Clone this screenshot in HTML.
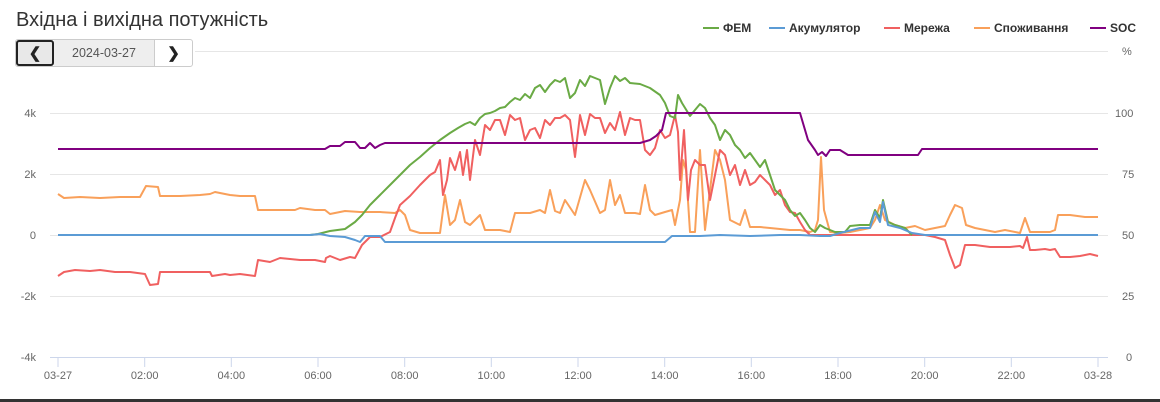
<!DOCTYPE html>
<html><head><meta charset="utf-8"><style>
body{margin:0;width:1160px;height:402px;overflow:hidden;background:#fff;font-family:"Liberation Sans",sans-serif;position:relative}
.t{position:absolute;left:16px;top:9px;font-size:20px;color:#333}
.bg{position:absolute;left:15px;top:39px;height:28px;width:178px;border:1px solid #ccc;border-radius:3px;display:flex;box-sizing:border-box}
.bg div{display:flex;align-items:center;justify-content:center;font-size:12.5px;color:#555}
.b1{width:38px;border:2px solid #222;border-radius:3px;background:#e8e8e8;box-sizing:border-box;font-weight:bold;color:#222!important;font-size:15px!important}
.b2{width:100px;background:#eee;border-right:1px solid #ccc}
.b3{flex:1;font-weight:bold;color:#222!important;font-size:15px!important}
.bot{position:absolute;left:0;top:399px;width:1160px;height:3px;background:#333}
</style></head><body>
<div class="t">Вхідна і вихідна потужність</div>
<div class="bg"><div class="b1">&#10094;</div><div class="b2">2024-03-27</div><div class="b3">&#10095;</div></div>
<svg width="1160" height="402" style="position:absolute;left:0;top:0" font-family="Liberation Sans,sans-serif">
<g stroke="#e6e6e6" stroke-width="1">
<line x1="195" y1="51.5" x2="1108" y2="51.5"/><line x1="50" y1="113.5" x2="1108" y2="113.5"/><line x1="50" y1="174.5" x2="1108" y2="174.5"/><line x1="50" y1="235.5" x2="1108" y2="235.5"/><line x1="50" y1="296.5" x2="1108" y2="296.5"/>
</g>
<line x1="50" y1="357.5" x2="1108" y2="357.5" stroke="#ccd6eb"/>
<g stroke="#ccd6eb"><line x1="58" y1="357" x2="58" y2="367"/><line x1="144.7" y1="357" x2="144.7" y2="367"/><line x1="231.3" y1="357" x2="231.3" y2="367"/><line x1="318" y1="357" x2="318" y2="367"/><line x1="404.7" y1="357" x2="404.7" y2="367"/><line x1="491.3" y1="357" x2="491.3" y2="367"/><line x1="578" y1="357" x2="578" y2="367"/><line x1="664.7" y1="357" x2="664.7" y2="367"/><line x1="751.3" y1="357" x2="751.3" y2="367"/><line x1="838" y1="357" x2="838" y2="367"/><line x1="924.7" y1="357" x2="924.7" y2="367"/><line x1="1011.3" y1="357" x2="1011.3" y2="367"/><line x1="1098" y1="357" x2="1098" y2="367"/></g>
<g fill="#666" font-size="11" text-anchor="middle">
<text x="58" y="379">03-27</text><text x="144.7" y="379">02:00</text><text x="231.3" y="379">04:00</text><text x="318" y="379">06:00</text><text x="404.7" y="379">08:00</text><text x="491.3" y="379">10:00</text><text x="578" y="379">12:00</text><text x="664.7" y="379">14:00</text><text x="751.3" y="379">16:00</text><text x="838" y="379">18:00</text><text x="924.7" y="379">20:00</text><text x="1011.3" y="379">22:00</text><text x="1098" y="379">03-28</text>
</g>
<g fill="#666" font-size="11" text-anchor="end">
<text x="36" y="117">4k</text><text x="36" y="178">2k</text><text x="36" y="239">0</text><text x="36" y="300">-2k</text><text x="36" y="361">-4k</text></g>
<g fill="#666" font-size="11" text-anchor="start">
<text x="1122" y="55">%</text><text x="1115" y="117">100</text><text x="1122" y="178">75</text><text x="1122" y="239">50</text><text x="1122" y="300">25</text><text x="1126" y="361">0</text></g>
<g font-size="12" font-weight="bold" fill="#333">
<line x1="703" y1="28" x2="719" y2="28" stroke="#6aaa45" stroke-width="2"/><text x="723" y="32">ФЕМ</text>
<line x1="769" y1="28" x2="785" y2="28" stroke="#5b9bd5" stroke-width="2"/><text x="789" y="32">Акумулятор</text>
<line x1="884" y1="28" x2="900" y2="28" stroke="#f06060" stroke-width="2"/><text x="904" y="32">Мережа</text>
<line x1="974" y1="28" x2="990" y2="28" stroke="#f9a05a" stroke-width="2"/><text x="994" y="32">Споживання</text>
<line x1="1090" y1="28" x2="1106" y2="28" stroke="#800080" stroke-width="2"/><text x="1110" y="32">SOC</text>
</g>
<g fill="none" stroke-width="2" stroke-linejoin="round">
<polyline stroke="#f9a05a" points="58,194 64,198 80,197 100,198 120,197 140,197 146,186 158,187 160,196 180,196 200,195 210,194 215,192 230,195 240,196 255,196 258,210 275,210 295,210 300,208 315,210 325,210 330,214 345,211 360,212 380,212 395,213 400,210 405,215 410,230 420,233 435,233 440,233 445,195 450,225 455,220 460,200 465,222 470,225 480,215 485,230 500,230 510,232 515,213 530,213 540,210 545,213 550,190 555,211 560,213 565,200 575,215 585,180 590,190 600,213 605,210 610,180 615,205 620,195 625,213 635,213 640,214 645,185 650,210 655,215 665,212 672,210 675,225 680,200 683,160 686,170 690,232 695,232 700,150 705,230 710,190 715,150 720,160 725,180 730,220 740,225 745,210 750,227 760,227 770,228 780,229 790,230 800,230 810,232 815,230 818,220 821,157 824,210 830,232 840,233 850,232 860,230 870,228 875,220 880,205 885,220 895,225 905,228 915,226 925,230 935,228 945,226 950,215 955,205 962,208 966,225 975,228 985,230 995,232 1005,230 1020,233 1025,218 1030,232 1050,232 1055,230 1058,215 1070,215 1085,217 1098,217"/>
<polyline stroke="#f06060" points="58,276 64,272 75,270 90,271 100,270 115,272 130,272 145,274 150,285 158,284 160,272 175,272 190,272 210,272 212,276 225,274 230,275 240,274 255,276 258,260 270,262 280,258 300,260 315,260 325,262 326,258 330,256 340,260 350,257 355,258 362,245 370,237 380,237 390,232 395,218 400,205 410,196 420,185 430,175 435,172 440,160 443,195 447,180 450,158 455,170 460,152 463,175 467,150 470,180 475,140 480,155 485,125 490,130 495,120 500,120 505,135 510,115 515,120 520,118 525,140 530,130 535,128 540,138 545,120 550,125 555,118 560,118 565,115 570,120 575,157 580,115 585,135 590,114 595,118 600,118 605,133 610,123 615,130 620,112 625,135 630,118 635,120 640,120 645,150 650,155 655,148 660,130 665,138 670,135 675,115 678,132 680,180 684,130 688,200 691,170 695,160 700,165 705,165 710,200 715,175 720,150 725,155 730,175 735,165 740,185 745,170 750,185 755,182 760,175 765,180 770,185 775,195 780,190 785,205 790,212 795,213 800,222 805,230 810,235 840,235 880,235 925,235 935,237 945,240 950,255 955,268 960,265 965,245 975,245 990,247 1010,247 1020,246 1023,248 1027,237 1030,250 1035,250 1045,249 1050,250 1055,249 1060,257 1070,257 1080,256 1090,254 1098,256"/>
<polyline stroke="#6aaa45" points="58,235 310,235 318,234 330,231 345,229 355,222 362,215 370,205 380,195 390,185 400,175 410,165 420,157 430,148 440,140 450,133 458,128 465,124 470,122 475,125 480,118 485,114 490,113 495,111 500,108 505,107 510,102 515,98 520,100 525,94 530,98 535,88 540,85 545,92 550,85 555,80 560,82 565,78 570,98 575,93 580,80 585,86 590,76 595,78 600,80 605,104 610,88 615,76 620,81 625,78 630,83 640,84 650,88 660,95 665,103 670,116 675,118 678,95 682,103 690,116 700,104 705,108 710,118 715,125 720,140 725,130 730,135 735,145 740,150 745,158 750,153 755,160 760,167 765,160 770,175 775,190 780,195 785,200 790,210 795,216 800,213 805,220 810,228 815,232 820,225 825,228 830,230 835,232 845,232 850,226 860,225 870,225 875,210 880,218 883,200 888,222 895,225 905,228 912,235"/>
<polyline stroke="#5b9bd5" points="58,235 310,235 320,234 330,236 345,237 355,240 360,242 365,236 380,236 385,242 420,242 560,242 665,242 672,236 700,236 720,235 750,236 780,235 800,235 820,236 830,236 840,233 860,228 870,228 875,212 880,222 883,202 888,225 900,228 912,233 925,235 1098,235"/>
<polyline stroke="#800080" points="58,149 325,149 330,146 340,146 345,142 355,142 360,148 365,148 370,143 375,148 380,145 385,143 400,143 640,143 650,140 656,136 662,130 666,113 670,113 800,113 808,140 815,150 818,155 822,152 826,156 830,150 840,150 848,155 918,155 922,149 1098,149"/>
</g>
</svg>
<div class="bot"></div>
</body></html>
